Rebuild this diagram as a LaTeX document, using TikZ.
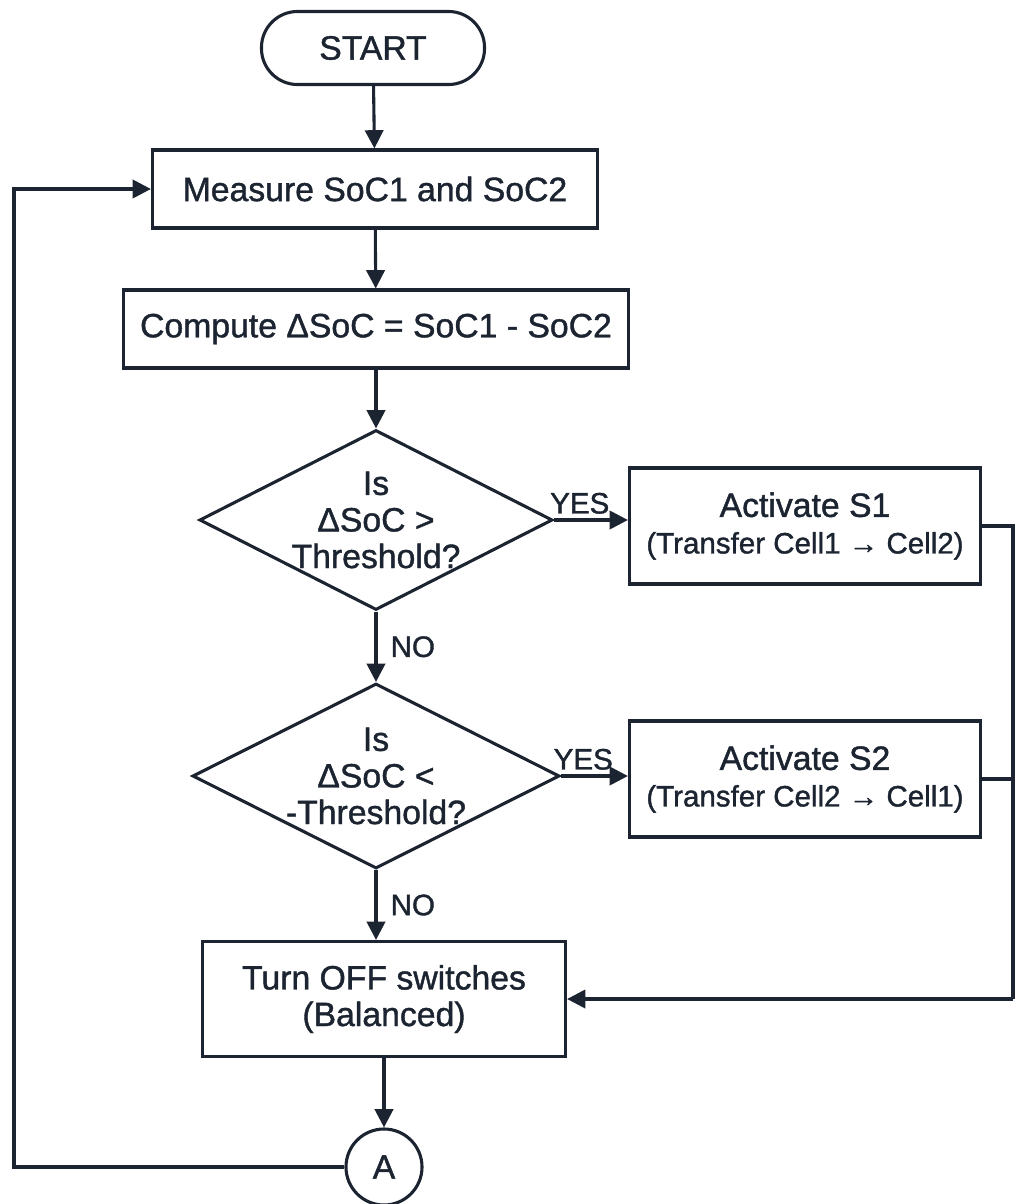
\documentclass[tikz,border=0pt]{standalone}
\usepackage{fontspec}
\setmainfont{Liberation Sans}[UprightFeatures={FakeBold=1.2}]
\usetikzlibrary{shapes.geometric,arrows.meta}
\definecolor{ink}{HTML}{1B2430}
\newcommand{\sub}{\fontsize{21}{25}\selectfont}
\begin{document}
\begin{tikzpicture}[x=0.025cm,y=-0.025cm,font=\fontsize{24}{26}\selectfont,
	every node/.style={text=ink},
	box/.style={draw=ink,line width=2.2pt,rectangle,inner sep=0pt,align=center},
	term/.style={draw=ink,line width=2.2pt,rounded corners=0.9cm,minimum width=5.575cm,minimum height=1.825cm},
	decide/.style={draw=ink,line width=2.2pt,diamond,aspect=2,inner sep=-4pt,align=center,minimum width=8.825cm,minimum height=4.5cm},
	conn/.style={draw=ink,line width=2.2pt,circle,minimum size=1.9cm,inner sep=0pt},
	flow/.style={draw=ink,line width=2.2pt,-{Triangle[length=13pt,width=13pt]}},
	link/.style={draw=ink,line width=2.2pt},
	answer/.style={font=\fontsize{21}{24}\selectfont}]
	\useasboundingbox (0,0) rectangle (1015,1204);
	% main column
	\node[term] (start) at (373,48) {START};
	\node[box,minimum width=11.125cm,minimum height=1.95cm] (measure) at (375,189) {Measure SoC1 and SoC2};
	\node[box,minimum width=12.6cm,minimum height=1.95cm] (compute) at (376,329) {Compute ΔSoC = SoC1 - SoC2};
	\node[decide] (dec1) at (376,520) {Is\\ΔSoC >\\Threshold?};
	\node[decide,minimum width=9.175cm,minimum height=4.625cm] (dec2) at (376,776) {Is\\ΔSoC <\\-Threshold?};
	\node[box,minimum width=9.075cm,minimum height=2.875cm] (off) at (384,999) {Turn OFF switches\\(Balanced)};
	\node[conn] (A) at (384,1167) {A};
	% actions
	\node[box,minimum width=8.775cm,minimum height=2.9cm] (act1) at (805,526) {Activate S1\\{\sub (Transfer Cell1 → Cell2)}};
	\node[box,minimum width=8.775cm,minimum height=2.9cm] (act2) at (805,779) {Activate S2\\{\sub (Transfer Cell2 → Cell1)}};
	\coordinate (bus1) at (1013,526);
	\coordinate (bus2) at (1013,779);
	\coordinate (bus3) at (1013,999);
	\coordinate (back1) at (14,1167);
	\coordinate (back2) at (14,189);
	% connectors
	\draw[flow] (start) -- (measure);
	\draw[flow] (measure) -- (compute);
	\draw[flow] (compute) -- (dec1);
	\draw[flow] (dec1) -- node[right,xshift=6pt,answer] {NO} (dec2);
	\draw[flow] (dec2) -- node[right,xshift=6pt,answer] {NO} (dec2|-off.north);
	\draw[flow] (dec1.east) -- node[above,xshift=-8pt,answer] {YES} (act1.west|-dec1.east);
	\draw[flow] (dec2.east) -- node[above,xshift=-8pt,answer] {YES} (act2.west|-dec2.east);
	\draw[link] (act1.east) -- (bus1) -- (bus3);
	\draw[link] (act2.east) -- (bus2);
	\draw[flow] (bus3) -- (off.east);
	\draw[flow] (off) -- (A);
	\draw[flow] (A.west) -- (back1) -- (back2) -- (measure.west);
\end{tikzpicture}
\end{document}
